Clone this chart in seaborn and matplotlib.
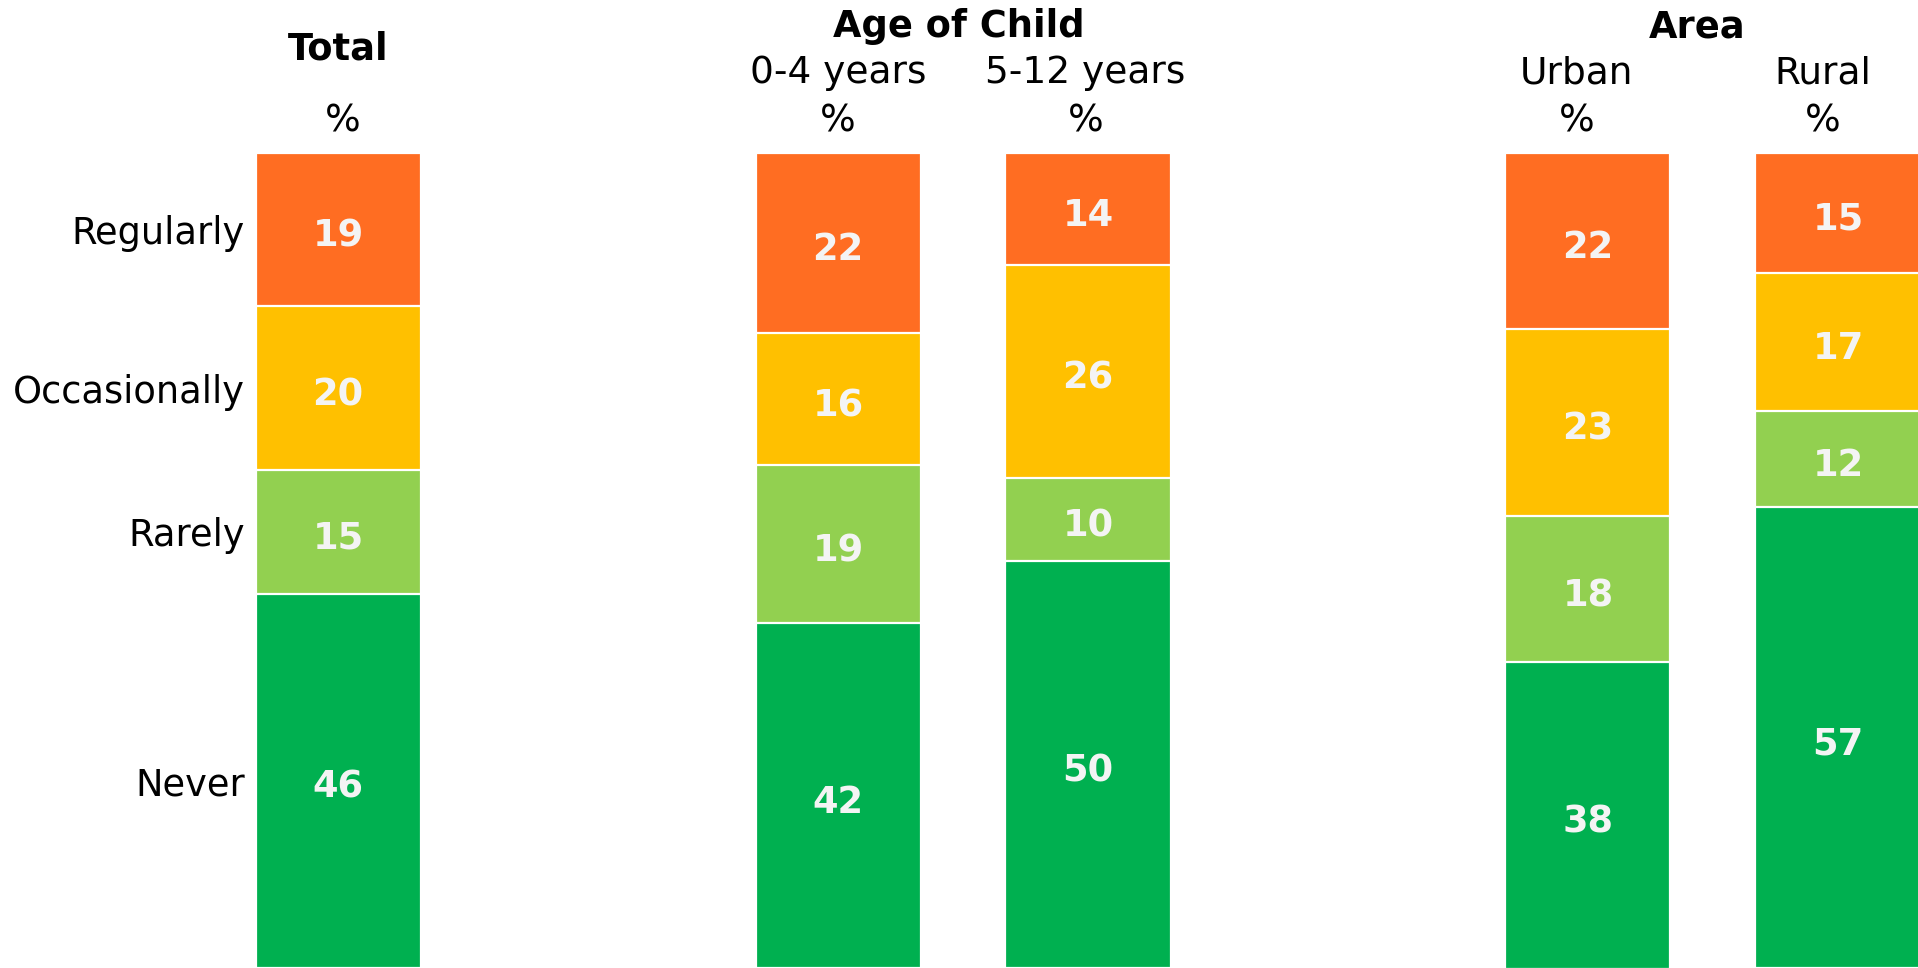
import matplotlib.pyplot as plt
import matplotlib.transforms as mtransforms
import pandas as pd
import seaborn as sns


plt.switch_backend("Agg")
sns.set_theme(style="white")
plt.rcParams["font.family"] = ["DejaVu Sans"]
plt.rcParams["text.color"] = "black"
plt.rcParams["ytick.color"] = "black"

# share of each answer per column, top to bottom
RESPONSES = ["Regularly", "Occasionally", "Rarely", "Never"]
COLUMNS = ["Total", "0-4 years", "5-12 years", "Urban", "Rural"]
TOTAL = [18.8, 20.1, 15.2, 45.9]
AGE_0_4 = [22.1, 16.2, 19.4, 42.3]
AGE_5_12 = [13.8, 26.1, 10.1, 50.0]
URBAN = [21.6, 23.0, 17.9, 37.6]
RURAL = [14.7, 17.0, 11.7, 56.6]
COLORS = ["#FF6D22", "#FFC000", "#92D050", "#00B050"]

# empty slots give the gaps between groups
SLOTS = ["Total", "gap_a", "0-4 years", "5-12 years", "gap_b", "Urban", "Rural"]
GROUP_TITLES = ["Age of Child", "Area"]
GROUP_MEMBERS = [["0-4 years", "5-12 years"], ["Urban", "Rural"]]

W, H, DPI = 1918, 968, 100
LABEL_COLOR = "#F4F4F4"
# small sideways nudges of the header texts, as in the original layout
HEADER_NUDGE = {"Total": 0.02, "0-4 years": 0.0, "5-12 years": -0.01,
                "Urban": -0.045, "Rural": -0.06}


def build_frame() -> pd.DataFrame:
    rows = []
    for column, values in zip(COLUMNS, [TOTAL, AGE_0_4, AGE_5_12, URBAN, RURAL]):
        end = 0.0
        for response, value in zip(RESPONSES, values):
            start = end
            end = start + value
            rows.append({"column": column, "response": response, "value": value,
                         "start": start, "end": end})
    return pd.DataFrame(rows)


def main() -> None:
    df = build_frame()

    fig = plt.figure(figsize=(W / DPI, H / DPI), dpi=DPI)
    ax = fig.add_axes([250 / W, 0, 1 - 250 / W, 815 / H])

    # stacked look: draw cumulative bars from the top, deepest first
    for response, color in reversed(list(zip(RESPONSES, COLORS))):
        sub = df[df["response"] == response]
        sns.barplot(data=sub, x="column", y="end", order=SLOTS, color=color,
                    saturation=1, width=0.66, errorbar=None, edgecolor="white",
                    linewidth=1.6, ax=ax)

    for _, row in df.iterrows():
        ax.text(SLOTS.index(row["column"]), (row["start"] + row["end"]) / 2 + 0.3,
                f"{row['value']:.0f}", ha="center", va="center_baseline",
                fontsize=26.5, fontweight="bold", color=LABEL_COLOR)

    ax.set_ylim(100, 0)
    ax.set_xlim(-0.352, 6.32)
    ax.set_xticks([])
    ax.set_xlabel("")
    ax.set_ylabel("")

    total = df[df["column"] == "Total"]
    ax.set_yticks((total["start"] + total["end"]) / 2)
    ax.set_yticklabels(RESPONSES, fontsize=26.5)
    ax.tick_params(axis="y", length=0, pad=3.6)
    sns.despine(ax=ax, left=True, bottom=True)

    trans = mtransforms.blended_transform_factory(ax.transData, fig.transFigure)

    def fig_y(px):
        return 1 - px / H

    ax.text(SLOTS.index("Total"), fig_y(60), "Total", transform=trans, ha="center",
            va="baseline", fontsize=26.5, fontweight="bold", clip_on=False)
    for title, members in zip(GROUP_TITLES, GROUP_MEMBERS):
        centre = sum(SLOTS.index(m) for m in members) / len(members)
        nudge = sum(HEADER_NUDGE[m] for m in members) / len(members)
        ax.text(centre + nudge - 0.01, fig_y(37), title, transform=trans,
                ha="center", va="baseline", fontsize=26.5, fontweight="bold",
                clip_on=False)
        for member in members:
            ax.text(SLOTS.index(member) + HEADER_NUDGE[member], fig_y(83), member,
                    transform=trans, ha="center", va="baseline", fontsize=27,
                    clip_on=False)
    for column in COLUMNS:
        ax.text(SLOTS.index(column) + HEADER_NUDGE[column], fig_y(131), "%",
                transform=trans, ha="center", va="baseline", fontsize=27,
                clip_on=False)

    fig.savefig("out.png", dpi=DPI)
    plt.close(fig)


if __name__ == "__main__":
    main()
